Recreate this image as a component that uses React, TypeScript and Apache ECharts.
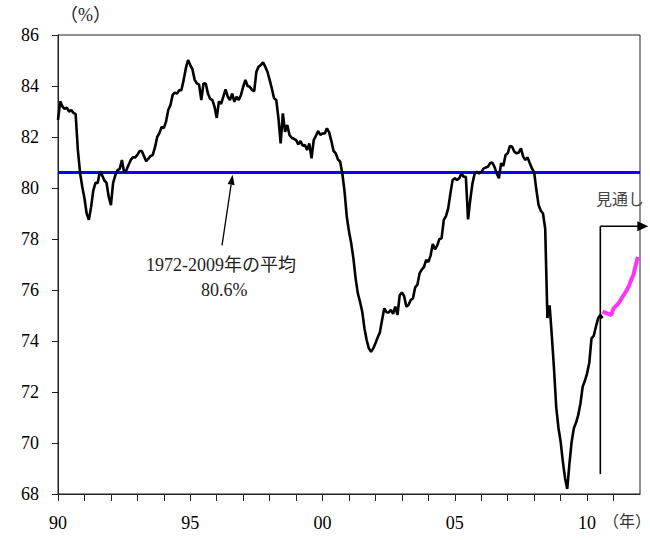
import React, { useEffect, useRef } from "react";
import * as echarts from "echarts";

// Monthly values, starting January 1990
const startYear = 1990;
const actual: number[] = [
  // 1990
  82.67, 83.4, 83.2, 83.1, 83.15, 83.0, 83.05, 82.95, 82.9, 81.5, 80.6, 80.05,
  // 1991
  79.6, 79.0, 78.75, 79.25, 79.9, 80.2, 80.2, 80.65, 80.5, 80.3, 80.2, 79.66,
  // 1992
  79.33, 80.2, 80.5, 80.7, 80.75, 81.1, 80.6, 80.7, 80.9, 81.1, 81.2, 81.2,
  // 1993
  81.3, 81.45, 81.45, 81.25, 81.05, 81.15, 81.25, 81.3, 81.6, 82.0, 82.15, 82.4,
  // 1994
  82.35, 82.6, 83.06, 83.25, 83.65, 83.74, 83.7, 83.84, 83.84, 84.24, 84.7, 85.02,
  // 1995
  84.82, 84.65, 84.24, 84.1, 84.05, 83.45, 84.1, 84.1, 83.71, 83.5, 83.45, 83.19,
  // 1996
  82.75, 83.4, 83.3, 83.58, 83.87, 83.58, 83.45, 83.7, 83.38, 83.58, 83.45, 83.65,
  // 1997
  83.97, 84.24, 84.0, 83.97, 83.84, 83.8, 84.56, 84.76, 84.82, 84.93, 84.76, 84.56,
  // 1998
  84.24, 83.9, 83.52, 83.45, 82.73, 81.75, 82.93, 82.2, 82.47, 82.08, 81.97, 81.93,
  // 1999
  81.88, 81.71, 81.84, 81.66, 81.69, 81.49, 81.75, 81.16, 81.88, 82.05, 82.23, 82.08,
  // 2000
  82.14, 82.14, 82.34, 82.18, 81.84, 81.45, 81.36, 81.12, 81.03, 80.55, 79.85, 78.87,
  // 2001
  78.29, 77.83, 77.24, 76.46, 75.87, 75.54, 75.15, 74.5, 74.04, 73.71, 73.58, 73.71,
  // 2002
  73.91, 74.14, 74.33, 74.82, 75.28, 75.13, 75.12, 75.22, 75.06, 75.35, 75.02, 75.8,
  // 2003
  75.9, 75.76, 75.35, 75.41, 75.61, 75.67, 76.1, 76.2, 76.65, 76.8, 76.9, 77.18,
  // 2004
  77.1, 77.35, 77.8, 77.6, 77.74, 78.0, 78.03, 78.75, 78.9, 79.2, 79.79, 80.31,
  // 2005
  80.38, 80.31, 80.38, 80.57, 80.44, 80.44, 78.77, 79.53, 80.18, 80.57, 80.63, 80.57,
  // 2006
  80.63, 80.76, 80.8, 80.83, 80.97, 81.0, 80.83, 80.57, 80.38, 80.97, 80.86, 81.29,
  // 2007
  81.36, 81.65, 81.62, 81.42, 81.36, 81.39, 81.56, 81.23, 81.1, 81.2, 80.97, 80.77,
  // 2008
  80.6, 79.92, 79.33, 79.11, 79.0, 78.4, 74.9, 75.4, 74.2, 72.9, 71.4, 70.6,
  // 2009
  70.05, 69.27, 68.62, 68.2, 69.2, 70.05, 70.58, 70.8, 71.1, 71.56, 72.21, 72.44,
  // 2010
  72.73, 73.15, 74.1, 74.2, 74.56, 74.89, 75.02, 74.89,
];

// Outlook (見通し), monthly, starting at month index 247 (Aug 2010)
const forecastStartIndex = 247;
const forecast: number[] = [
  75.15, 75.12, 75.08, 75.05, 75.02, 75.28, 75.37, 75.45, 75.58, 75.72, 75.85,
  76.0, 76.16, 76.4, 76.59, 76.94, 77.3,
];

const averageLevel = 80.6; // 1972-2009 average
const yMin = 68;
const yMax = 86;
const yStep = 2;
const xMin = 1990;
const xMax = 2012;
const labelYears = [1990, 1995, 2000, 2005, 2010];

const SERIF = "'Liberation Serif', 'Noto Sans CJK JP', serif";
const CJK = "'Noto Sans CJK JP', sans-serif";

export default function App() {
  const ref = useRef<HTMLDivElement>(null);

  useEffect(() => {
    if (!ref.current) return;
    const chart = echarts.init(ref.current, null, { renderer: "svg" });

    const actualData = actual.map((v, i) => [startYear + i / 12, v]);
    const forecastData = forecast.map((v, i) => [
      startYear + (forecastStartIndex + i) / 12,
      v,
    ]);

    const option: any = {
      animation: false,
      grid: {
        left: 58,
        right: 10,
        top: 35,
        bottom: 46,
        show: true,
        borderColor: "#222",
        borderWidth: 1,
        backgroundColor: "transparent",
      },
      xAxis: {
        type: "value",
        min: xMin,
        max: xMax,
        interval: 1,
        axisLine: { show: true, lineStyle: { color: "#222", width: 1 } },
        axisTick: { show: true, length: 7, lineStyle: { color: "#222", width: 1 } },
        axisLabel: {
          formatter: (v: number) => {
            const y = Math.round(v);
            return labelYears.includes(y) ? String(y % 100).padStart(2, "0") : "";
          },
          fontSize: 18,
          fontFamily: SERIF,
          color: "#000",
          margin: 20,
          showMaxLabel: false,
        },
        splitLine: { show: false },
      },
      yAxis: {
        type: "value",
        min: yMin,
        max: yMax,
        interval: yStep,
        axisLine: { show: true, lineStyle: { color: "#222", width: 1 } },
        axisTick: { show: true, length: 6, lineStyle: { color: "#222", width: 1 } },
        axisLabel: {
          fontSize: 18,
          fontFamily: SERIF,
          color: "#000",
          margin: 19,
        },
        splitLine: { show: false },
      },
      series: [
        {
          type: "line",
          data: actualData,
          showSymbol: false,
          symbol: "none",
          lineStyle: { color: "#000", width: 2.6 },
          z: 3,
          markLine: {
            silent: true,
            symbol: ["none", "none"],
            label: { show: false },
            lineStyle: { color: "#0000ff", width: 3, type: "solid", opacity: 1 },
            emphasis: { disabled: true },
            data: [{ yAxis: averageLevel }],
            z: 2,
          },
        },
        {
          type: "line",
          data: forecastData,
          showSymbol: false,
          symbol: "none",
          lineStyle: { color: "#ff33ff", width: 4 },
          z: 3,
        },
      ],
    };

    chart.setOption(option);

    const P = (x: number, y: number) =>
      chart.convertToPixel({ gridIndex: 0 }, [x, y]) as number[];

    // Arrow pointing at the average line
    const tail = P(1996.2, 77.75);
    const tip = P(1996.6, averageLevel - 0.08);
    const dx = tip[0] - tail[0];
    const dy = tip[1] - tail[1];
    const len = Math.sqrt(dx * dx + dy * dy);
    const ux = dx / len;
    const uy = dy / len;
    const nx = -uy;
    const ny = ux;
    const headL = 10;
    const headW = 3.5;
    const base = [tip[0] - ux * headL, tip[1] - uy * headL];

    // Outlook bracket
    const vx = 2010.5;
    const vTop = P(vx, 78.5);
    const vBot = P(vx, 68.78);
    const hEnd = vTop[0] + 48;

    chart.setOption({
      graphic: [
        {
          type: "text",
          left: 60,
          top: 6,
          style: { text: "（%）", fontFamily: SERIF, fontSize: 18, fill: "#222" },
        },
        {
          type: "text",
          left: 603,
          top: 512,
          style: { text: "（年）", fontFamily: CJK, fontSize: 16, fill: "#333" },
        },
        {
          type: "line",
          shape: { x1: tail[0], y1: tail[1], x2: base[0], y2: base[1] },
          style: { stroke: "#000", lineWidth: 1.3 },
        },
        {
          type: "polygon",
          shape: {
            points: [
              [tip[0], tip[1]],
              [base[0] + nx * headW, base[1] + ny * headW],
              [base[0] - nx * headW, base[1] - ny * headW],
            ],
          },
          style: { fill: "#000" },
        },
        {
          type: "text",
          left: 146,
          top: 256,
          style: { text: "1972-2009年の平均", fontFamily: SERIF, fontSize: 18, fill: "#222" },
        },
        {
          type: "text",
          left: 201,
          top: 281,
          style: { text: "80.6%", fontFamily: SERIF, fontSize: 18, fill: "#222" },
        },
        {
          type: "line",
          shape: { x1: vTop[0], y1: vTop[1], x2: vBot[0], y2: vBot[1] },
          style: { stroke: "#000", lineWidth: 1.6 },
        },
        {
          type: "line",
          shape: { x1: vTop[0], y1: vTop[1], x2: hEnd - 10, y2: vTop[1] },
          style: { stroke: "#000", lineWidth: 1.6 },
        },
        {
          type: "polygon",
          shape: {
            points: [
              [hEnd, vTop[1]],
              [hEnd - 11, vTop[1] - 5],
              [hEnd - 11, vTop[1] + 5],
            ],
          },
          style: { fill: "#000" },
        },
        {
          type: "text",
          left: 596,
          top: 190,
          style: { text: "見通し", fontFamily: CJK, fontSize: 16, fill: "#444" },
        },
      ],
    });

    return () => chart.dispose();
  }, []);

  return (
    <div
      ref={ref}
      style={{ position: "fixed", left: 0, top: 0, width: 650, height: 540, background: "#fff" }}
    />
  );
}
